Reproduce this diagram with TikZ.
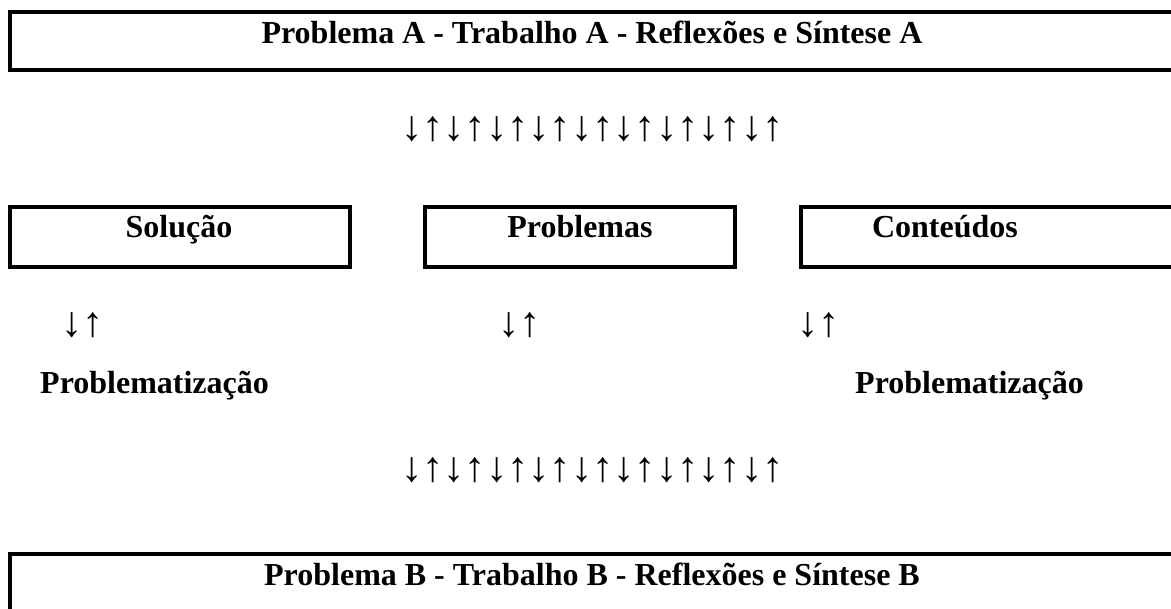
\documentclass[tikz,border=0pt]{standalone}
\usepackage{fontspec}
\setmainfont{Liberation Serif}
\begin{document}
\begin{tikzpicture}[x=1pt,y=-1pt,
  frame/.style={draw, line width=4pt, inner sep=0pt, outer sep=0pt, anchor=north west},
  label/.style={font=\fontsize{32}{38}\selectfont\bfseries, inner sep=0pt, anchor=base},
  arrowrow/.style={font=\fontsize{42.5}{50}\selectfont, inner sep=0pt, anchor=base west}]
\useasboundingbox (0,0) rectangle (1171,609);
\clip (0,0) rectangle (1171,609);

% top and bottom banners
\node[frame, minimum width=1165pt, minimum height=58pt] (boxA) at (9.5,12) {};
\node[label] (titleA) at (592,43.5) {Problema A - Trabalho A - Reflexões e Síntese A};
\node[frame, minimum width=1165pt, minimum height=80pt] (boxB) at (9.5,554) {};
\node[label] (titleB) at (592,586) {Problema B - Trabalho B - Reflexões e Síntese B};

% three middle boxes
\node[frame, minimum width=340pt, minimum height=60pt] (boxSol) at (9.5,207) {};
\node[label] (sol) at (179,238) {Solução};
\node[frame, minimum width=310pt, minimum height=60pt] (boxProb) at (425,207) {};
\node[label] (prob) at (580,238) {Problemas};
\node[frame, minimum width=400pt, minimum height=60pt] (boxCont) at (801,207) {};
\node[label] (cont) at (945,238) {Conteúdos};

% rows of arrows
\node[arrowrow] (rowA) at (401,141) {↓↑↓↑↓↑↓↑↓↑↓↑↓↑↓↑↓↑};
\node[arrowrow] (rowB) at (401,482) {↓↑↓↑↓↑↓↑↓↑↓↑↓↑↓↑↓↑};
\node[arrowrow] (pairL) at (61,337) {↓↑};
\node[arrowrow] (pairM) at (498,337) {↓↑};
\node[arrowrow] (pairR) at (797,337) {↓↑};

% problematization labels
\node[label, anchor=base west] (probL) at (40,394) {Problematização};
\node[label, anchor=base west] (probR) at (855,394) {Problematização};
\end{tikzpicture}
\end{document}
